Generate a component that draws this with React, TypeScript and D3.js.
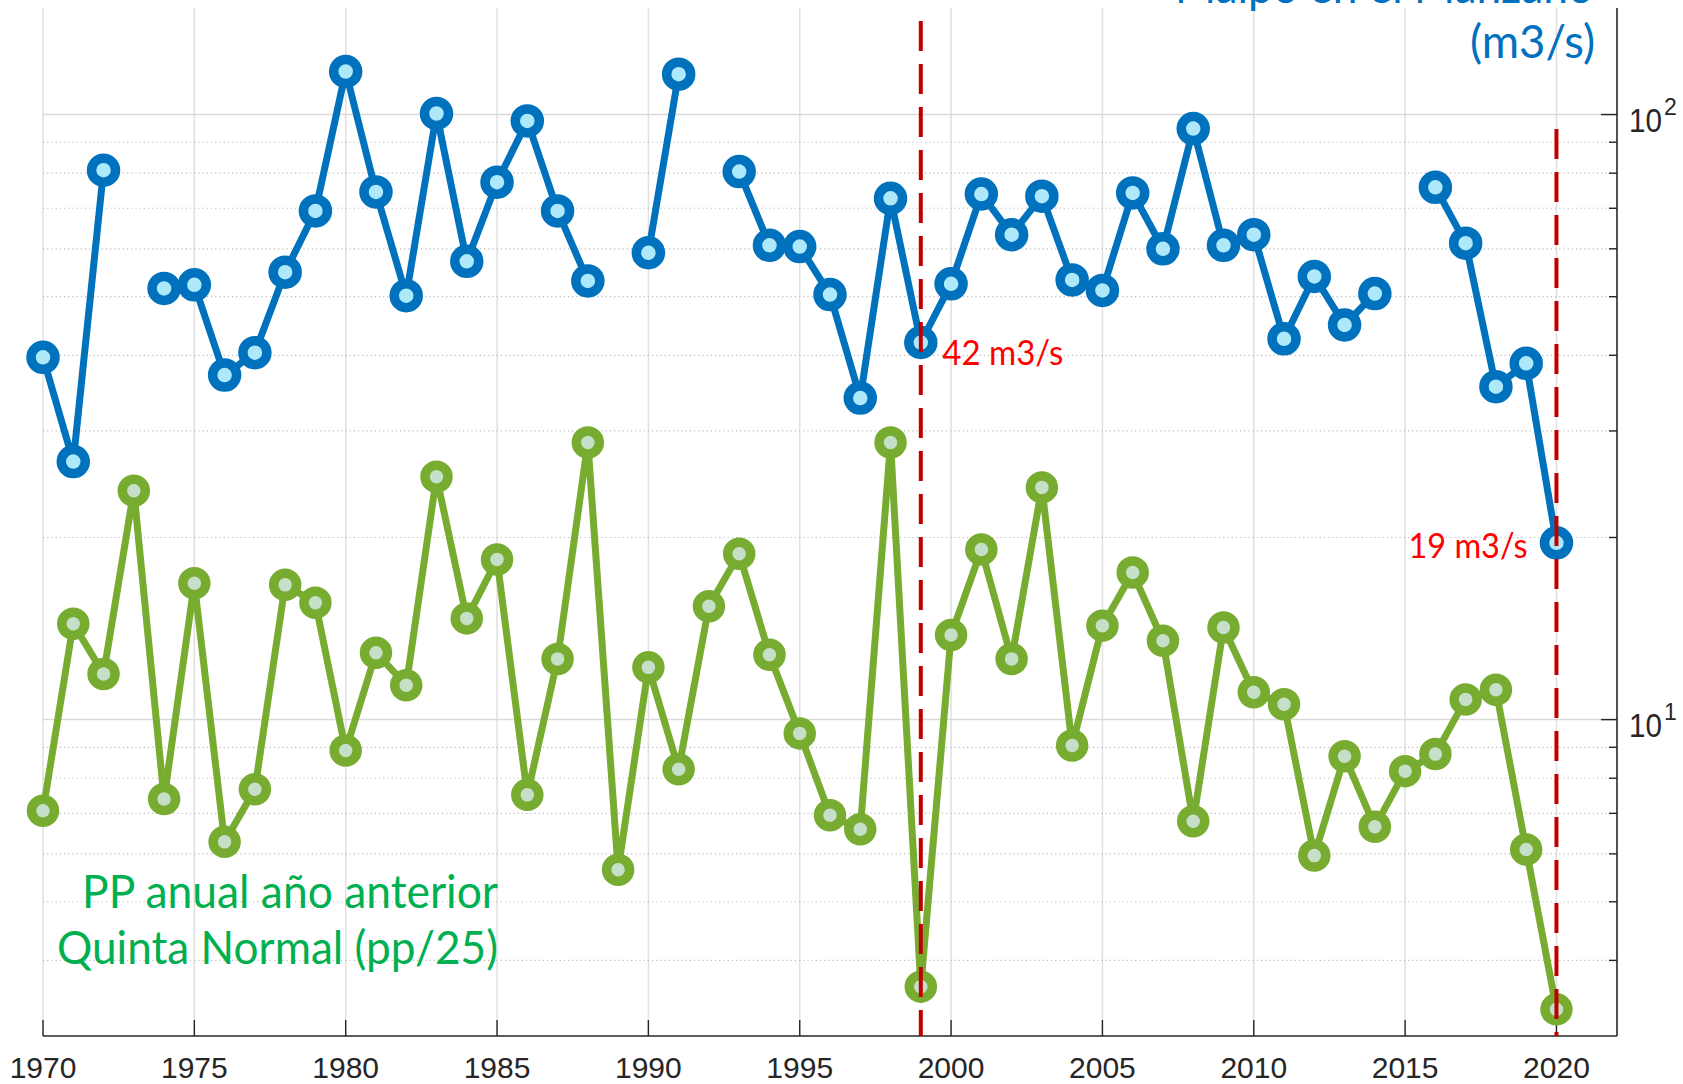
import React, { useEffect, useRef } from 'react';
import * as d3 from 'd3';

// years on the x axis
const years = [
  1970, 1971, 1972, 1973, 1974, 1975, 1976, 1977, 1978, 1979,
  1980, 1981, 1982, 1983, 1984, 1985, 1986, 1987, 1988, 1989,
  1990, 1991, 1992, 1993, 1994, 1995, 1996, 1997, 1998, 1999,
  2000, 2001, 2002, 2003, 2004, 2005, 2006, 2007, 2008, 2009,
  2010, 2011, 2012, 2013, 2014, 2015, 2016, 2017, 2018, 2019, 2020,
];

// Maipo en el Manzano, mean annual flow (m3/s); null = no data
const manzanoFlow: (number | null)[] = [
  39.7, 26.7, 80.9, null, 51.6, 52.3, 37.1, 40.4, 54.9, 69.3,
  117.8, 74.5, 50.2, 100.4, 57.2, 77.3, 97.6, 69.3, 53.1, null,
  59.1, 116.6, null, 80.5, 60.8, 60.5, 50.4, 34.0, 72.7, 42.0,
  52.5, 73.9, 63.3, 73.3, 53.3, 51.2, 74.2, 60.0, 94.8, 60.8,
  63.3, 42.6, 54.0, 44.9, 50.6, null, 75.8, 61.3, 35.5, 38.8, 19.6,
];

// Quinta Normal, previous year's precipitation / 25
const ppPrevYear = [
  7.07, 14.4, 11.9, 23.9, 7.39, 16.8, 6.28, 7.67, 16.7, 15.6,
  8.89, 12.9, 11.4, 25.2, 14.7, 18.4, 7.51, 12.6, 28.7, 5.65,
  12.2, 8.28, 15.4, 18.8, 12.8, 9.49, 6.95, 6.59, 28.7, 3.62,
  13.8, 19.1, 12.6, 24.2, 9.06, 14.3, 17.5, 13.5, 6.79, 14.2,
  11.1, 10.6, 5.96, 8.70, 6.65, 8.22, 8.77, 10.8, 11.2, 6.10, 3.32,
];

const xTickYears = [1970, 1975, 1980, 1985, 1990, 1995, 2000, 2005, 2010, 2015, 2020];
const markedYears = [1999, 2020];
const markedLabels = ['42 m3/s', '19 m3/s'];

const WIDTH = 1683;
const HEIGHT = 1084;

export default function App() {
  const svgRef = useRef<SVGSVGElement>(null);

  useEffect(() => {
    const svg = d3.select(svgRef.current);
    svg.selectAll('*').remove();

    const left = 43, right = 1617, top = 8, bottom = 1036;
    const x = d3.scaleLinear().domain([1970, 2022]).range([left, right]);
    const y = d3.scaleLog().domain([3, 150]).range([bottom, top]);

    const allTicks = y.ticks();
    const majors = [10, 100];
    const minors = allTicks.filter(v => !majors.includes(v) && v > 3);

    const tickFont = '"Liberation Sans", Arial, Helvetica, sans-serif';
    const textFont = 'Lato, "Open Sans", sans-serif';

    // grid
    const grid = svg.append('g');
    grid.selectAll('.vgrid')
      .data(xTickYears)
      .enter()
      .append('line')
      .attr('x1', d => x(d)).attr('x2', d => x(d))
      .attr('y1', top).attr('y2', bottom)
      .attr('stroke', '#e0e0e0')
      .attr('stroke-width', 1.5);
    grid.selectAll('.minor')
      .data(minors)
      .enter()
      .append('line')
      .attr('x1', left).attr('x2', right)
      .attr('y1', d => y(d)).attr('y2', d => y(d))
      .attr('stroke', '#bdbdbd')
      .attr('stroke-width', 1.2)
      .attr('stroke-dasharray', '1.2,3');
    grid.selectAll('.major')
      .data(majors)
      .enter()
      .append('line')
      .attr('x1', left).attr('x2', right)
      .attr('y1', d => y(d)).attr('y2', d => y(d))
      .attr('stroke', '#dadada')
      .attr('stroke-width', 1.5);

    // axes
    const axes = svg.append('g').attr('stroke', '#262626');
    axes.append('line')
      .attr('x1', left).attr('x2', right)
      .attr('y1', bottom).attr('y2', bottom)
      .attr('stroke-width', 1.6);
    axes.append('line')
      .attr('x1', right).attr('x2', right)
      .attr('y1', top).attr('y2', bottom)
      .attr('stroke-width', 1.6);
    axes.selectAll('.xtick')
      .data(xTickYears)
      .enter()
      .append('line')
      .attr('x1', d => x(d)).attr('x2', d => x(d))
      .attr('y1', bottom).attr('y2', bottom - 16)
      .attr('stroke-width', 1.4);
    axes.selectAll('.ymajor')
      .data(majors)
      .enter()
      .append('line')
      .attr('x1', right).attr('x2', right - 16)
      .attr('y1', d => y(d)).attr('y2', d => y(d))
      .attr('stroke-width', 1.4);
    axes.selectAll('.yminor')
      .data(minors)
      .enter()
      .append('line')
      .attr('x1', right).attr('x2', right - 8)
      .attr('y1', d => y(d)).attr('y2', d => y(d))
      .attr('stroke-width', 1.4);

    svg.append('g')
      .selectAll('text')
      .data(xTickYears)
      .enter()
      .append('text')
      .attr('x', d => x(d))
      .attr('y', 1078)
      .attr('text-anchor', 'middle')
      .style('font-family', tickFont)
      .style('font-size', '30px')
      .style('fill', '#262626')
      .text(d => String(d));

    const ylab = svg.append('g')
      .selectAll('g')
      .data(majors)
      .enter()
      .append('g')
      .attr('transform', d => `translate(1629,${y(d)})`);
    ylab.append('text')
      .attr('y', 17)
      .attr('textLength', 33)
      .attr('lengthAdjust', 'spacingAndGlyphs')
      .style('font-family', tickFont)
      .style('font-size', '33px')
      .style('fill', '#262626')
      .text('10');
    ylab.append('text')
      .attr('x', 35)
      .attr('y', 0)
      .style('font-family', tickFont)
      .style('font-size', '23px')
      .style('fill', '#262626')
      .text(d => String(Math.round(Math.log10(d))));

    // series
    const green = years.map((yr, i) => ({ yr, v: ppPrevYear[i] }));
    const blue = years.map((yr, i) => ({ yr, v: manzanoFlow[i] }));

    const line = d3.line<{ yr: number; v: number | null }>()
      .defined(d => d.v != null)
      .x(d => x(d.yr))
      .y(d => y(d.v as number));

    svg.append('path')
      .datum(green)
      .attr('d', line)
      .attr('fill', 'none')
      .attr('stroke', '#77ac30')
      .attr('stroke-width', 7)
      .attr('stroke-linejoin', 'round');
    svg.append('g')
      .selectAll('circle')
      .data(green)
      .enter()
      .append('circle')
      .attr('cx', d => x(d.yr))
      .attr('cy', d => y(d.v))
      .attr('r', 11.5)
      .attr('fill', '#c6dfc9')
      .attr('stroke', '#77ac30')
      .attr('stroke-width', 9.5);

    svg.append('path')
      .datum(blue)
      .attr('d', line)
      .attr('fill', 'none')
      .attr('stroke', '#0072bd')
      .attr('stroke-width', 7)
      .attr('stroke-linejoin', 'round');
    svg.append('g')
      .selectAll('circle')
      .data(blue.filter(d => d.v != null))
      .enter()
      .append('circle')
      .attr('cx', d => x(d.yr))
      .attr('cy', d => y(d.v as number))
      .attr('r', 12)
      .attr('fill', '#aee9fb')
      .attr('stroke', '#0072bd')
      .attr('stroke-width', 9.5);

    // marked years
    svg.append('g')
      .selectAll('line')
      .data(markedYears)
      .enter()
      .append('line')
      .attr('x1', d => x(d)).attr('x2', d => x(d))
      .attr('y1', (d, i) => (i === 0 ? 21 : 129))
      .attr('y2', bottom)
      .attr('stroke', '#c00000')
      .attr('stroke-width', 4)
      .attr('stroke-dasharray', '30,13');

    const v1999 = manzanoFlow[years.indexOf(1999)] as number;
    const v2020 = manzanoFlow[years.indexOf(2020)] as number;
    svg.append('text')
      .attr('x', x(1999) + 21.5)
      .attr('y', y(v1999) + 22.5)
      .attr('textLength', 121)
      .attr('lengthAdjust', 'spacingAndGlyphs')
      .style('font-family', textFont)
      .style('font-size', '35px')
      .style('fill', '#ff0000')
      .text(markedLabels[0]);
    svg.append('text')
      .attr('x', x(2020) - 148)
      .attr('y', y(v2020) + 15)
      .attr('textLength', 119)
      .attr('lengthAdjust', 'spacingAndGlyphs')
      .style('font-family', textFont)
      .style('font-size', '35px')
      .style('fill', '#ff0000')
      .text(markedLabels[1]);

    // series labels (the first title line is clipped at the top, as in the source)
    svg.append('text')
      .attr('x', 1175).attr('y', 3)
      .attr('textLength', 418)
      .attr('lengthAdjust', 'spacingAndGlyphs')
      .style('font-family', textFont)
      .style('font-size', '46px')
      .style('fill', '#0070c0')
      .text('Maipo en el Manzano');
    svg.append('text')
      .attr('x', 1470).attr('y', 58)
      .attr('textLength', 125)
      .attr('lengthAdjust', 'spacingAndGlyphs')
      .style('font-family', textFont)
      .style('font-size', '46px')
      .style('fill', '#0070c0')
      .text('(m3/s)');

    svg.append('text')
      .attr('x', 82).attr('y', 908)
      .attr('textLength', 416)
      .attr('lengthAdjust', 'spacingAndGlyphs')
      .style('font-family', textFont)
      .style('font-size', '46px')
      .style('fill', '#00b050')
      .text('PP anual año anterior');
    svg.append('text')
      .attr('x', 57).attr('y', 964)
      .attr('textLength', 441)
      .attr('lengthAdjust', 'spacingAndGlyphs')
      .style('font-family', textFont)
      .style('font-size', '46px')
      .style('fill', '#00b050')
      .text('Quinta Normal (pp/25)');
  }, []);

  return (
    <svg
      ref={svgRef}
      width={WIDTH}
      height={HEIGHT}
      style={{ position: 'absolute', left: 0, top: 0, background: '#ffffff' }}
    />
  );
}
